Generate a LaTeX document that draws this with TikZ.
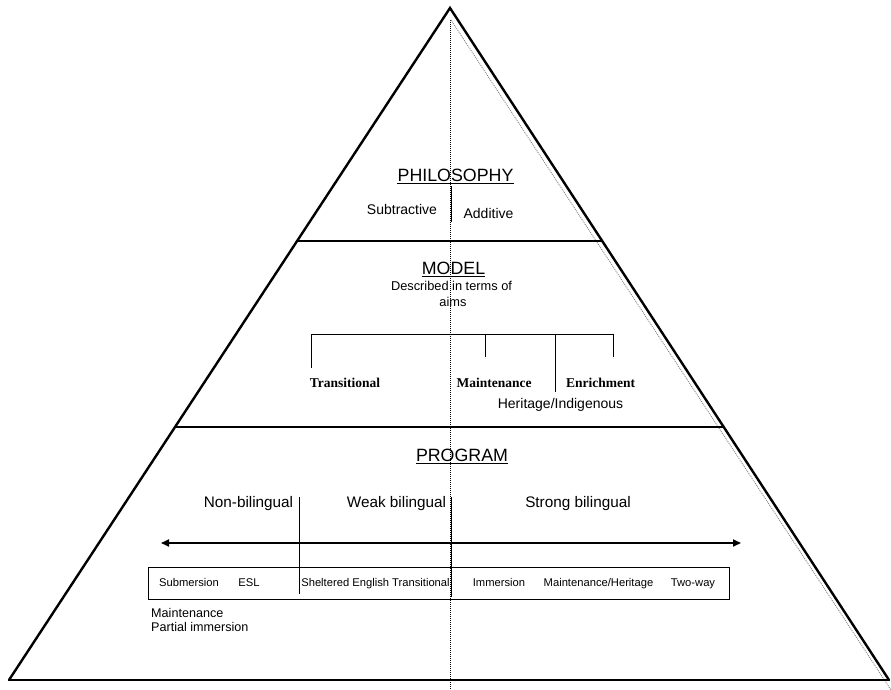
\documentclass[tikz,border=0pt]{standalone}
\usepackage{fontspec}
\setmainfont{Liberation Sans}
\newfontfamily\serifbold{Liberation Serif}
\usetikzlibrary{calc,arrows.meta}
\begin{document}
\begin{tikzpicture}[x=1pt,y=-1pt,
  heading/.style={font=\fontsize{17.8}{20}\selectfont,inner sep=0pt,anchor=base},
  txt/.style={inner sep=0pt,anchor=base},
  modelname/.style={font=\serifbold\bfseries\fontsize{13.5}{15}\selectfont,inner sep=0pt,anchor=base},
  boxtxt/.style={font=\fontsize{11.2}{13}\selectfont,inner sep=0pt,anchor=base},
  edge/.style={line width=2.4pt,line join=miter},
  thin/.style={line width=0.9pt},
  guide/.style={dash pattern=on 1pt off 1pt,line width=0.7pt},
  uline/.style={line width=1.1pt}]
\useasboundingbox (0,0) rectangle (891,690);
% triangle
\coordinate (A) at (450,8);
\coordinate (BL) at (9,680);
\coordinate (BR) at (889,680);
\draw[guide] (450,20) coordinate (g1) -- (450,690) coordinate (g2);
\draw[guide,black!50,line width=0.8pt] (451,20) coordinate (g3) -- (891,690) coordinate (g4);
\draw[edge] (BL) -- (A) -- (BR);
\draw[line width=2.8pt] ($(BL)+(-1,0)$) -- ($(BR)+(1,0)$);
\draw[line width=1.4pt] ($(A)!0.3467!(BL)$) -- ($(A)!0.3467!(BR)$);
\draw[line width=2.6pt] ($(A)!0.6235!(BL)$) -- ($(A)!0.6235!(BR)$);
% PHILOSOPHY
\node[heading] (phil) at (455.5,181) {PHILOSOPHY};
\draw[uline] ($(phil.south west)+(0,2)$) -- ($(phil.south east)+(0,2)$);
\node[txt,font=\fontsize{14}{16}\selectfont] (sub) at (402,214) {Subtractive};
\node[txt,font=\fontsize{14}{16}\selectfont] (add) at (488.5,218) {Additive};
\draw[thin] (451,186) coordinate (pv1) -- (451,222) coordinate (pv2);
% MODEL
\node[heading] (model) at (453.5,274) {MODEL};
\draw[uline] ($(model.south west)+(0,2)$) -- ($(model.south east)+(0,2)$);
\node[txt,font=\fontsize{12.8}{15}\selectfont] (desc) at (451.5,290) {Described in terms of};
\node[txt,font=\fontsize{12.8}{15}\selectfont] (aims) at (453,306) {aims};
\draw[thin] (311,368) coordinate (b1) -- (311,334) coordinate (b2) -- (613,334) coordinate (b3) -- (613,357) coordinate (b4);
\draw[thin] (485,334) coordinate (b5) -- (485,357) coordinate (b6);
\draw[thin] (555,334) coordinate (b7) -- (555,392) coordinate (b8);
\node[modelname] (trans) at (345,387) {Transitional};
\node[modelname] (maint) at (494,387) {Maintenance};
\node[modelname] (enr) at (600.5,387) {Enrichment};
\node[txt,font=\fontsize{14}{16}\selectfont] (herit) at (560.5,408) {Heritage/Indigenous};
% PROGRAM
\node[heading] (prog) at (462,461) {PROGRAM};
\draw[uline] ($(prog.south west)+(0,2)$) -- ($(prog.south east)+(0,2)$);
\node[txt,font=\fontsize{15.3}{17}\selectfont] (nonb) at (248.5,507) {Non-bilingual};
\node[txt,font=\fontsize{15.3}{17}\selectfont] (weakb) at (396.5,507) {Weak bilingual};
\node[txt,font=\fontsize{15.3}{17}\selectfont] (strb) at (578,507) {Strong bilingual};
\draw[thin] (299,497) coordinate (v1) -- (299,594) coordinate (v2);
\draw[thin] (451,497) coordinate (v3) -- (451,597) coordinate (v4);
\coordinate (al) at (161,543);
\coordinate (ar) at (741,543);
\draw[line width=1.8pt,{Triangle[length=8pt,width=7pt]}-{Triangle[length=8pt,width=7pt]}] (al) -- (ar);
\draw[thin] (148,567) rectangle (729,599);
\node[boxtxt] (t1) at (189,586) {Submersion};
\node[boxtxt] (t2) at (249,586) {ESL};
\node[boxtxt] (t3) at (375.5,586) {Sheltered English Transitional};
\node[boxtxt] (t4) at (499,586) {Immersion};
\node[boxtxt] (t5) at (598.5,586) {Maintenance/Heritage};
\node[boxtxt] (t6) at (693,586) {Two-way};
\node[txt,anchor=base west,font=\fontsize{12.6}{14}\selectfont] (m1) at (151,617) {Maintenance};
\node[txt,anchor=base west,font=\fontsize{12.6}{14}\selectfont] (m2) at (151,631) {Partial immersion};
\end{tikzpicture}
\end{document}
